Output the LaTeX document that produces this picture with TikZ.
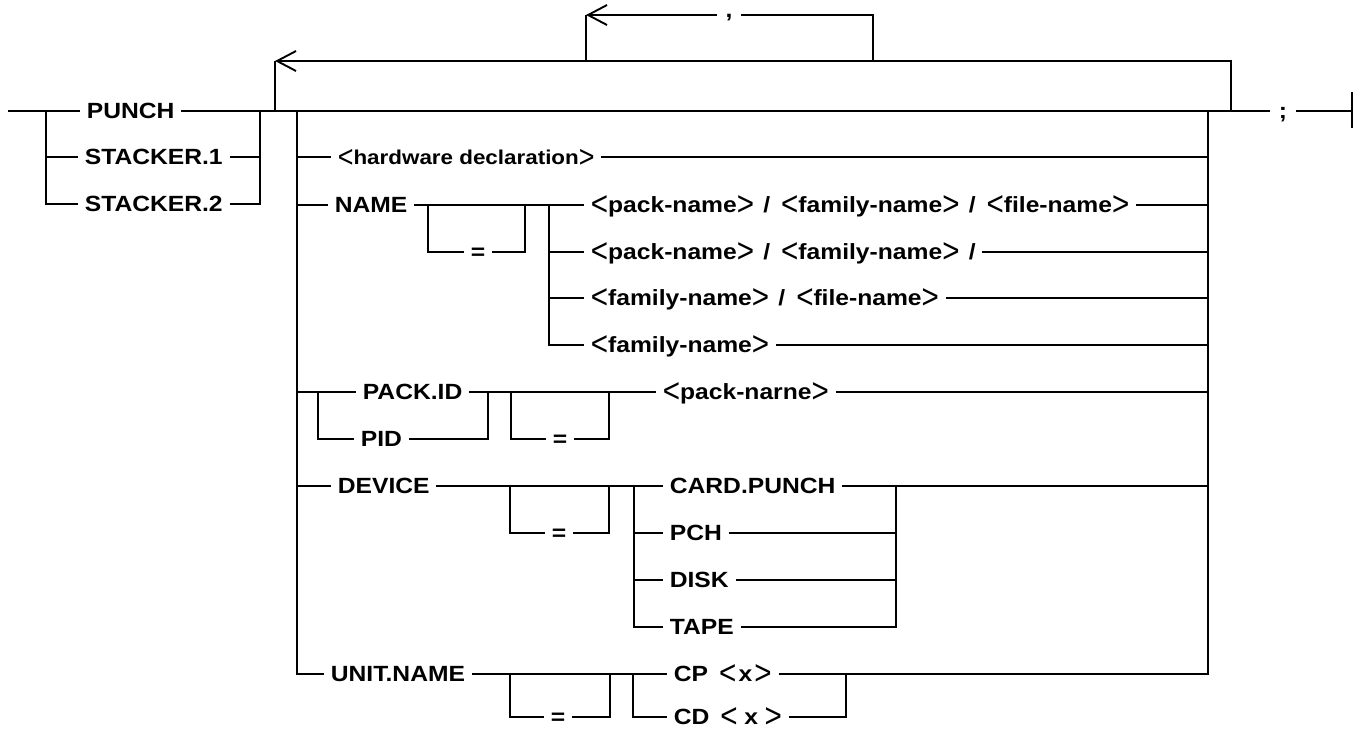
\documentclass[tikz,border=0pt]{standalone}
\usepackage{fontspec}
\usepackage{graphicx}
\newfontfamily\lbfont{Liberation Sans}[FakeStretch=1.12]
\usetikzlibrary{arrows.meta}
\newcommand{\slsep}{\hspace{0.42em}/\hspace{0.5em}}
\newcommand{\abl}{{\mdseries\raisebox{-3.2pt}{\scalebox{1.2}[1.55]{<}}}}
\newcommand{\abr}{{\mdseries\raisebox{-3.2pt}{\scalebox{1.2}[1.55]{>}}}}
\begin{document}
\begin{tikzpicture}[x=1pt,y=-1pt,line width=1.7pt,line join=miter,
  lbl/.style={font=\lbfont\bfseries\fontsize{22}{24}\selectfont,inner xsep=6pt,inner ysep=0pt,text height=15pt,text depth=0pt,anchor=west},
  eqs/.style={lbl,anchor=center},
  cma/.style={font=\lbfont\bfseries\fontsize{22}{24}\selectfont,inner xsep=8pt,inner ysep=0pt,text height=4pt,text depth=0pt,anchor=center},
  back/.style={-{Straight Barb[length=19pt,width=20pt,line width=1.9pt]}}]
\useasboundingbox (0,0) rectangle (1355,729);
% ---- entry alternatives
\coordinate (in) at (8,111);
\coordinate (lb) at (46,111);
\node[lbl] (punch) at (80,111) {PUNCH};
\node[lbl] (st1) at (78,157) {STACKER.1};
\node[lbl] (st2) at (78,204) {STACKER.2};
\coordinate (rb) at (260,111);
\coordinate (lp) at (275,111);
\coordinate (ob) at (297,111);
\coordinate (oe) at (1208,111);
\coordinate (lr) at (1231,111);
\node[lbl,anchor=center,inner xsep=8pt] (semi) at (1283,111) {;};
\coordinate (fin) at (1352,111);
\coordinate (fint) at (1352,92);
\coordinate (finb) at (1352,128);
\draw (in) -- (punch.west);
\draw (lb) |- (st1.west);
\draw (lb) |- (st2.west);
\draw (punch.east) -- (rb) -- (lp) -- (ob) -- (oe) -- (lr) -- (semi.west);
\draw (st1.east) -| (rb);
\draw (st2.east) -| (rb);
\draw (semi.east) -- (fin);
\draw (fint) -- (finb);
% ---- outer repeat loop
\coordinate (lpt) at (275,61);
\coordinate (lrt) at (1231,61);
\draw (lp) -- (lpt);
\draw[back] (lr) -- (lrt) -- (lpt);
% ---- comma loop
\coordinate (cl) at (586,61);
\coordinate (clt) at (586,15);
\coordinate (cr) at (873,61);
\coordinate (crt) at (873,15);
\node[cma] (cm) at (729,15) {,};
\draw (cl) -- (clt);
\draw (cr) -- (crt) -- (cm.east);
\draw[back] (cm.west) -- (clt);
% ---- option bars
\coordinate (o1) at (297,157);
\coordinate (o2) at (297,205);
\coordinate (o3) at (297,392);
\coordinate (o4) at (297,486);
\coordinate (o5) at (297,674);
\coordinate (e5) at (1208,674);
% hardware declaration
\node[lbl,font=\lbfont\bfseries\fontsize{20}{22}\selectfont] (hw) at (331,157) {\abl hardware declaration\abr};
\draw (o1) -- (hw.west);
\draw (hw.east) -- (hw.east -| oe);
% NAME
\node[lbl] (nm) at (328,205) {NAME};
\draw (o2) -- (nm.west);
\coordinate (na) at (549,205);
\coordinate (n1) at (428,205);
\coordinate (n2) at (525,205);
\node[eqs] (neq) at (478,252) {=};
\node[lbl] (nr1) at (584,205) {\abl pack-name\abr\slsep\abl family-name\abr\slsep\abl file-name\abr};
\node[lbl] (nr2) at (584,252) {\abl pack-name\abr\slsep\abl family-name\abr\slsep};
\node[lbl] (nr3) at (584,298) {\abl family-name\abr\slsep\abl file-name\abr};
\node[lbl] (nr4) at (584,345) {\abl family-name\abr};
\draw (nm.east) -- (na) -- (nr1.west);
\draw (n1) |- (neq.west);
\draw (neq.east) -| (n2);
\draw (na) |- (nr2.west);
\draw (na) |- (nr3.west);
\draw (na) |- (nr4.west);
\draw (nr1.east) -- (nr1.east -| oe);
\draw (nr2.east) -- (nr2.east -| oe);
\draw (nr3.east) -- (nr3.east -| oe);
\draw (nr4.east) -- (nr4.east -| oe);
% PACK.ID
\coordinate (pa) at (318,392);
\node[lbl] (pk) at (356,392) {PACK.ID};
\node[lbl] (pid) at (354,439) {PID};
\coordinate (pj) at (488,392);
\coordinate (q1) at (511,392);
\coordinate (q2) at (609,392);
\node[eqs] (peq) at (560,439) {=};
\node[lbl] (pn) at (656,392) {\abl pack-narne\abr};
\draw (o3) -- (pk.west);
\draw (pa) |- (pid.west);
\draw (pk.east) -- (pj) -- (pn.west);
\draw (pid.east) -| (pj);
\draw (q1) |- (peq.west);
\draw (peq.east) -| (q2);
\draw (pn.east) -- (pn.east -| oe);
% DEVICE
\node[lbl] (dev) at (331,486) {DEVICE};
\coordinate (da) at (634,486);
\coordinate (r1) at (510,486);
\coordinate (r2) at (609,486);
\node[eqs] (deq) at (559,533) {=};
\node[lbl] (d1) at (663,486) {CARD.PUNCH};
\node[lbl] (d2) at (663,533) {PCH};
\node[lbl] (d3) at (663,580) {DISK};
\node[lbl] (d4) at (663,627) {TAPE};
\coordinate (db) at (896,486);
\draw (o4) -- (dev.west);
\draw (dev.east) -- (da) -- (d1.west);
\draw (r1) |- (deq.west);
\draw (deq.east) -| (r2);
\draw (da) |- (d2.west);
\draw (da) |- (d3.west);
\draw (da) |- (d4.west);
\draw (d1.east) -- (db) -- (db -| oe);
\draw (d2.east) -| (db);
\draw (d3.east) -| (db);
\draw (d4.east) -| (db);
% UNIT.NAME
\node[lbl] (un) at (324,674) {UNIT.NAME};
\coordinate (ua) at (633,674);
\coordinate (u1) at (510,674);
\coordinate (u2) at (610,674);
\node[eqs] (ueq) at (558,717) {=};
\node[lbl] (cp) at (667,674) {CP\hspace{0.5em}\abl\hspace{0.1em}x\hspace{0.1em}\abr};
\node[lbl] (cd) at (667,717) {CD\hspace{0.5em}\abl\hspace{0.3em}x\hspace{0.3em}\abr};
\coordinate (ub) at (846,674);
\draw (ob) -- (o5) -- (un.west);
\draw (un.east) -- (ua) -- (cp.west);
\draw (u1) |- (ueq.west);
\draw (ueq.east) -| (u2);
\draw (ua) |- (cd.west);
\draw (cp.east) -- (ub) -- (e5) -- (oe);
\draw (cd.east) -| (ub);
\end{tikzpicture}
\end{document}
